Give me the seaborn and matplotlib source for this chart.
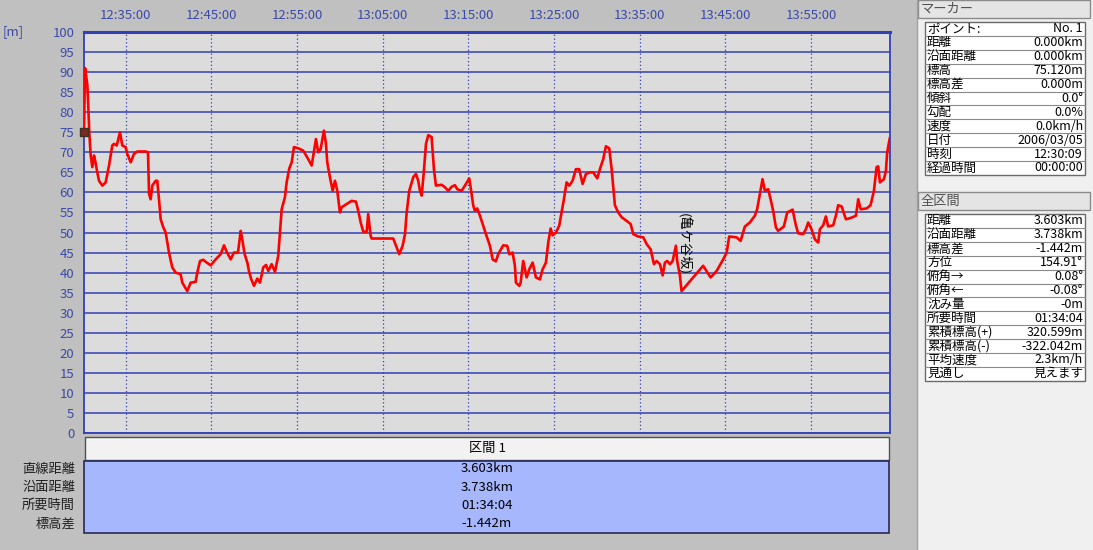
import numpy as np
import pandas as pd
import matplotlib
matplotlib.use('Agg')
import matplotlib.pyplot as plt
from matplotlib.patches import Rectangle
import seaborn as sns

# elevation profile: minutes elapsed since 12:30:09, elevation in metres
elapsed_min = [0.00, 0.12, 0.39, 0.50, 0.62, 0.78, 0.97, 1.17, 1.34, 1.55, 1.75, 2.14, 2.53, 2.92,
               3.30, 3.50, 3.82, 4.20, 4.47, 4.86, 5.05, 5.45, 5.83, 6.22, 7.20, 7.47, 7.59, 7.78,
               7.97, 8.37, 8.55, 8.75, 8.95, 9.25, 9.53, 9.92, 10.30, 10.70, 11.28, 11.47, 12.05,
               12.45, 13.03, 13.22, 13.54, 13.92, 14.32, 14.79, 15.37, 15.95, 16.34, 16.65, 17.12,
               17.50, 17.97, 18.29, 18.47, 18.75, 19.06, 19.25, 19.49, 19.84, 20.22, 20.54, 20.92,
               21.24, 21.51, 21.90, 22.29, 22.67, 22.87, 23.07, 23.45, 23.65, 23.96, 24.24, 24.50,
               25.01, 25.59, 26.17, 26.57, 27.07, 27.34, 27.62, 28.00, 28.24, 28.39, 28.70, 29.02,
               29.29, 29.56, 29.87, 30.07, 30.65, 31.24, 31.74, 32.01, 32.29, 32.59, 32.99, 33.17,
               33.45, 33.57, 36.09, 36.49, 36.79, 37.19, 37.46, 37.66, 37.96, 38.43, 38.74, 39.01,
               39.21, 39.41, 39.67, 39.91, 40.18, 40.57, 40.84, 41.07, 41.74, 42.12, 42.51, 42.91,
               43.29, 43.56, 44.07, 44.46, 44.96, 45.12, 45.43, 45.62, 45.89, 46.21, 46.59, 46.91,
               47.37, 47.69, 48.07, 48.34, 48.93, 49.39, 49.63, 50.02, 50.29, 50.41, 50.80, 50.96,
               51.26, 51.66, 51.96, 52.36, 52.74, 53.21, 53.52, 53.91, 54.18, 54.46, 54.69, 55.08,
               55.46, 55.74, 56.01, 56.32, 56.63, 57.02, 57.41, 57.79, 58.19, 58.58, 59.04, 59.43,
               59.90, 60.21, 60.60, 60.91, 61.30, 61.58, 61.85, 61.96, 62.35, 62.75, 63.33, 63.80,
               64.10, 64.69, 65.27, 65.67, 66.13, 66.52, 66.83, 67.22, 67.53, 67.80, 68.07, 68.38,
               68.70, 69.08, 69.23, 69.55, 69.74, 72.26, 73.13, 73.83, 74.60, 75.00, 75.30, 76.16,
               76.63, 77.13, 77.71, 78.30, 78.56, 78.88, 79.19, 79.46, 79.85, 80.13, 80.43, 80.75,
               81.01, 81.68, 82.07, 82.70, 83.08, 83.35, 83.94, 84.25, 84.52, 84.91, 85.30, 85.69,
               85.88, 86.27, 86.58, 86.85, 87.44, 87.75, 88.02, 88.42, 88.92, 89.58, 90.09, 90.36,
               90.64, 91.34, 91.80, 92.19, 92.50, 92.69, 92.89, 93.36, 93.59, 93.74, 94.05]
elevation_m = [75.1, 91.0, 86.8, 81.4, 74.8, 69.2, 66.3, 69.2, 67.5, 65.0, 62.9, 61.7, 62.5, 66.7,
               71.7, 72.1, 71.7, 75.0, 71.7, 71.3, 69.6, 67.5, 69.6, 70.2, 70.2, 70.0, 59.6, 58.3,
               61.7, 62.9, 62.9, 58.3, 53.3, 51.3, 50.0, 45.0, 41.3, 40.0, 39.6, 37.5, 35.4,
               37.5, 37.7, 40.0, 42.9, 43.2, 42.5, 41.8, 43.3, 44.6, 46.8, 45.2, 43.3,
               45.0, 45.0, 50.4, 48.3, 44.6, 42.5, 40.4, 38.5, 36.7, 38.5, 37.5, 41.3,
               41.9, 40.4, 42.1, 40.2, 44.2, 50.0, 55.8, 58.8, 62.5, 66.0, 67.5, 71.3,
               71.0, 70.4, 68.3, 66.7, 73.3, 70.0, 70.8, 75.4, 72.1, 67.5, 63.8, 60.4,
               62.9, 60.4, 55.0, 56.3, 57.1, 57.9, 57.7, 55.4, 52.5, 50.2, 50.2, 54.6,
               49.2, 48.5, 48.5, 46.3, 44.6, 46.7, 49.6, 55.0, 60.4, 63.8, 64.6, 62.9,
               60.4, 59.2, 65.4, 72.1, 74.3, 73.8, 65.8, 61.7, 61.9, 61.3, 60.4, 61.4,
               61.8, 60.8, 60.4, 61.7, 63.5, 61.3, 56.7, 55.4, 56.0, 54.2, 51.7, 49.6,
               46.7, 43.3, 42.8, 44.6, 46.8, 46.7, 44.6, 45.0, 41.7, 37.5, 36.7, 37.5,
               42.9, 38.8, 40.8, 42.5, 38.8, 38.3, 40.8, 42.5, 47.5, 51.0, 49.3, 50.0,
               51.7, 55.0, 58.3, 62.5, 61.7, 62.9, 65.8, 65.8, 62.1, 64.6, 65.0, 65.0,
               63.5, 65.8, 68.3, 71.5, 71.0, 65.8, 59.2, 56.8, 55.0, 53.8, 52.9, 52.1,
               49.6, 49.0, 48.8, 47.1, 45.8, 42.1, 42.9, 42.1, 39.3, 42.5, 42.9, 42.1,
               42.9, 46.7, 42.9, 39.2, 35.4, 41.7, 38.8, 40.4, 43.3, 45.0, 49.0, 48.8,
               47.9, 51.5, 52.5, 54.2, 55.8, 59.6, 63.3, 60.4, 60.8, 58.3, 55.4, 51.3,
               50.4, 51.5, 55.0, 55.7, 51.8, 49.8, 49.6, 50.8, 52.5, 50.8, 48.3, 47.5,
               50.8, 51.8, 54.0, 51.5, 51.8, 54.2, 56.8, 56.5, 53.3, 53.7, 54.2, 58.3,
               55.8, 56.0, 56.8, 60.4, 66.3, 66.5, 62.5, 63.3, 65.4, 70.0, 73.68]

start_time = '12:30:09'
total_time = '01:34:04'
x_tick_labels = ['12:35:00', '12:45:00', '12:55:00', '13:05:00', '13:15:00',
                 '13:25:00', '13:35:00', '13:45:00', '13:55:00']
y_ticks = list(range(0, 101, 5))

place_name = '(亀ケ谷坂)'
place_pos = (69.9, 39.5)

marker_rows = [('ポイント:', 'No. 1'), ('距離', '0.000km'), ('沿面距離', '0.000km'),
               ('標高', '75.120m'), ('標高差', '0.000m'), ('傾斜', '0.0°'), ('勾配', '0.0%'),
               ('速度', '0.0km/h'), ('日付', '2006/03/05'), ('時刻', '12:30:09'),
               ('経過時間', '00:00:00')]
total_rows = [('距離', '3.603km'), ('沿面距離', '3.738km'), ('標高差', '-1.442m'),
              ('方位', '154.91°'), ('俯角→', '0.08°'), ('俯角←', '-0.08°'), ('沈み量', '-0m'),
              ('所要時間', '01:34:04'), ('累積標高(+)', '320.599m'), ('累積標高(-)', '-322.042m'),
              ('平均速度', '2.3km/h'), ('見通し', '見えます')]
section_title = '区間 1'
section_labels = ['直線距離', '沿面距離', '所要時間', '標高差']
section_values = ['3.603km', '3.738km', '01:34:04', '-1.442m']

sns.set_style('white')
plt.rcParams['font.family'] = ['Noto Sans CJK JP', 'DejaVu Sans']

df = pd.DataFrame({'elapsed': elapsed_min, 'elevation': elevation_m})
t0 = pd.to_timedelta(start_time)
tick_pos = [(pd.to_timedelta(t) - t0).total_seconds() / 60 for t in x_tick_labels]
t_end = pd.to_timedelta(total_time).total_seconds() / 60

W, H = 1093, 550
blue = '#3340b4'
label_blue = '#3a4aa6'
fig = plt.figure(figsize=(W / 100, H / 100), dpi=100, facecolor='#c0c0c0')

# pixel-space overlay for the panels around the chart
ov = fig.add_axes([0, 0, 1, 1], zorder=-1)
ov.set_xlim(0, W)
ov.set_ylim(H, 0)
ov.axis('off')

ax = fig.add_axes([84 / W, (H - 433) / H, (890 - 84) / W, (433 - 32) / H])
ax.set_facecolor('#dcdcdc')
sns.lineplot(data=df, x='elapsed', y='elevation', color='#ff0000', lw=1.9,
             estimator=None, sort=False, ax=ax, zorder=3)
ax.scatter([elapsed_min[0]], [elevation_m[0]], marker='s', s=28, color='#7a2a20',
           edgecolor='#403020', zorder=4, clip_on=False)
ax.text(place_pos[0], place_pos[1], place_name, rotation=270, ha='center', va='bottom',
        fontsize=9.5, color='black', zorder=5)

ax.set_xlim(0, t_end)
ax.set_ylim(0, 100)
ax.set_xticks(tick_pos)
ax.set_xticklabels(x_tick_labels)
ax.set_yticks(y_ticks)
ax.xaxis.tick_top()
ax.tick_params(axis='x', length=0, pad=7, labelsize=9.5, labelcolor=label_blue)
ax.tick_params(axis='y', length=0, pad=7, labelsize=9.5, labelcolor=label_blue)
ax.set_xlabel('')
ax.set_ylabel('')
ax.set_axisbelow(True)
ax.yaxis.grid(True, color=blue, lw=1.1, ls='-')
ax.xaxis.grid(True, color=blue, lw=0.9, ls=(0, (1, 2)))
for s in ax.spines.values():
    s.set_color(blue)
    s.set_linewidth(1.3)
ax.spines['top'].set_linewidth(2.2)

ov.text(3, 32, '[m]', fontsize=9.5, color=label_blue, ha='left', va='center')

# section table under the chart
ov.add_patch(Rectangle((85, 437), 804, 23, facecolor='#f2f2f2', edgecolor='#505050', lw=1))
ov.text(487, 448.5, section_title, ha='center', va='center', fontsize=9.5, color='black')
ov.add_patch(Rectangle((84, 461), 805, 72, facecolor='#a6b7fe', edgecolor='#2a2a50', lw=1.2))
for i, (lab, val) in enumerate(zip(section_labels, section_values)):
    yy = 469 + i * 18.3
    ov.text(75, yy, lab, ha='right', va='center', fontsize=9.5, color='#202020')
    ov.text(487, yy, val, ha='center', va='center', fontsize=9.5, color='black')

# right side panel
ov.add_patch(Rectangle((917, 0), W - 917, H, facecolor='#f0f0f0', edgecolor='none'))
ov.plot([917, 917], [0, H], color='#a0a0a0', lw=1)


def info_table(title, top, rows):
    ov.add_patch(Rectangle((918, top), 172, 18, facecolor='#e4e4e4', edgecolor='#8a8a8a', lw=1))
    ov.text(921, top + 9, title, ha='left', va='center', fontsize=9.5, color='#505050')
    t_top = top + 22
    rh = 13.9
    ov.add_patch(Rectangle((925, t_top), 160, rh * len(rows), facecolor='white',
                           edgecolor='#6a6a6a', lw=1))
    for i, (lab, val) in enumerate(rows):
        yy = t_top + rh * i
        if i > 0:
            ov.plot([925, 1085], [yy, yy], color='#8a8a8a', lw=0.8)
        ov.text(927, yy + rh / 2, lab, ha='left', va='center', fontsize=9, color='black')
        ov.text(1083, yy + rh / 2, val, ha='right', va='center', fontsize=9, color='black')


info_table('マーカー', 0, marker_rows)
info_table('全区間', 192, total_rows)

fig.savefig('out.png', dpi=100, facecolor=fig.get_facecolor())
